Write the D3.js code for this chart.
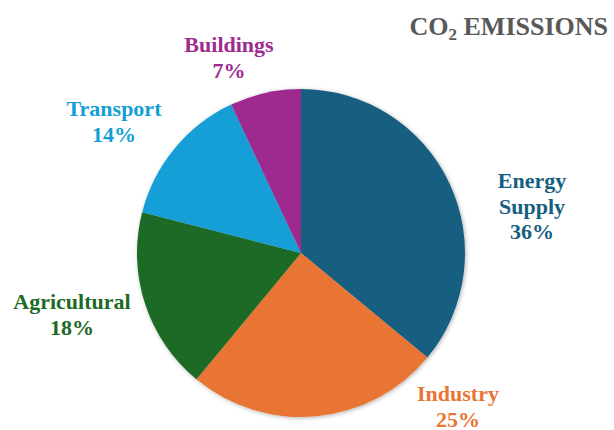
<!DOCTYPE html>
<html><head><meta charset="utf-8">
<script src="https://cdn.jsdelivr.net/npm/d3@7"></script>
<style>body{margin:0;background:#fff}svg{display:block}</style>
</head><body>
<script>
const categories = ["Energy Supply", "Industry", "Agricultural", "Transport", "Buildings"];
const values = [36, 25, 18, 14, 7];
const colors = ["#175f81", "#e97534", "#1c6b25", "#139fd6", "#9e2b8f"];
const labelLines = [["Energy", "Supply"], ["Industry"], ["Agricultural"], ["Transport"], ["Buildings"]];
// label anchor (x, first baseline y) - layout only
const labelAnchors = [[532, 188], [458, 401], [72, 309], [114, 116], [229, 52]];

const W = 614, H = 430;
const cx = 301, cy = 253, R = 164;
const svg = d3.select("body").append("svg").attr("width", W).attr("height", H);

const defs = svg.append("defs");
const f = defs.append("filter").attr("id", "sh").attr("x", "-10%").attr("y", "-10%").attr("width", "120%").attr("height", "120%");
f.append("feDropShadow").attr("dx", 1).attr("dy", 1).attr("stdDeviation", 2).attr("flood-color", "#000").attr("flood-opacity", 0.3);

const pie = d3.pie().sort(null).value(d => d)(values);
const arc = d3.arc().innerRadius(0).outerRadius(R);
const g = svg.append("g").attr("transform", `translate(${cx},${cy})`).attr("filter", "url(#sh)");
g.selectAll("path").data(pie).join("path").attr("d", arc).attr("fill", (d, i) => colors[i]);

const font = "'Liberation Serif','Times New Roman',serif";
categories.forEach((c, i) => {
  const lines = labelLines[i].concat([values[i] + "%"]);
  const t = svg.append("text").attr("x", labelAnchors[i][0]).attr("y", labelAnchors[i][1])
    .attr("text-anchor", "middle").attr("font-family", font).attr("font-weight", "bold")
    .attr("font-size", 22).attr("fill", colors[i]);
  lines.forEach((l, j) => t.append("tspan").attr("x", labelAnchors[i][0]).attr("dy", j === 0 ? 0 : 25.5).text(l));
});

const title = svg.append("text").attr("x", 608).attr("y", 35).attr("text-anchor", "end")
  .attr("font-family", font).attr("font-weight", "bold").attr("font-size", 26).attr("fill", "#595959");
title.append("tspan").text("CO");
title.append("tspan").attr("font-size", 17).attr("dy", 5).text("2");
title.append("tspan").attr("dy", -5).text(" EMISSIONS");
</script>
</body></html>
